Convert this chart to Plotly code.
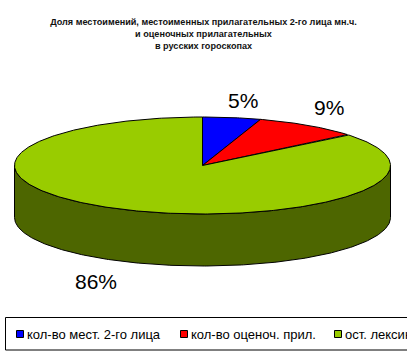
import math
import plotly.graph_objects as go

title_lines = ["Доля местоимений, местоименных прилагательных 2-го лица мн.ч.",
               "и оценочных прилагательных", "в русских гороскопах"]
categories = ["кол-во мест. 2-го лица", "кол-во оценоч. прил.", "ост. лексика"]
values = [5, 9, 86]
top_colors = ["#0000ff", "#ff0000", "#99cc00"]
side_colors = ["#000080", "#800000", "#4d6600"]
legend_swatch_x = [16, 180, 334]
label_nudges = [(0, 1), (-17, -3), (2, 3)]

W, H = 407, 356
CX, CY, RX, RY, DEPTH = 202.5, 165.5, 188, 48.5, 52
SCALE_X, SCALE_Y = 1.36, 1.38

def pt(a, drop=0):
    r = math.radians(a)
    return CX + RX * math.sin(r), CY - RY * math.cos(r) + drop

total = sum(values)
fig = go.Figure()
start = 0
spans = []
for v in values:
    spans.append((start, start + v / total * 360))
    start += v / total * 360

def arc(a0, a1, drop=0):
    n = max(2, int((a1 - a0) * 1.5))
    return [pt(a0 + (a1 - a0) * i / n, drop) for i in range(n + 1)]

# side wall: only the front half of the rim is visible
for (a0, a1), cat, col in zip(spans, categories, side_colors):
    s, e = max(a0, 90), min(a1, 270)
    if s < e:
        poly = arc(s, e) + arc(s, e, DEPTH)[::-1]
        poly.append(poly[0])
        fig.add_trace(go.Scatter(x=[p[0] for p in poly], y=[p[1] for p in poly], mode="lines",
                                 fill="toself", fillcolor=col, line=dict(color="black", width=1),
                                 hoverinfo="skip", showlegend=False))

# top face
for (a0, a1), cat, col in zip(spans, categories, top_colors):
    poly = [(CX, CY)] + arc(a0, a1) + [(CX, CY)]
    fig.add_trace(go.Scatter(x=[p[0] for p in poly], y=[p[1] for p in poly], mode="lines",
                             fill="toself", fillcolor=col, line=dict(color="black", width=1),
                             name=cat, hoverinfo="name", showlegend=False))

# percentage labels
for (a0, a1), v, (nx, ny) in zip(spans, values, label_nudges):
    r = math.radians((a0 + a1) / 2)
    lx = CX + RX * SCALE_X * math.sin(r) + nx
    ly = CY - RY * SCALE_Y * math.cos(r) + ny + (DEPTH if math.cos(r) < 0 else 0)
    fig.add_annotation(x=lx, y=ly, text=f"{round(v / total * 100)}%", showarrow=False,
                       font=dict(size=21, color="black"))

# legend frame, swatches and entries (the frame runs past the right edge)
fig.add_shape(type="rect", x0=5.5, x1=430, y0=317.5, y1=350, line=dict(color="black", width=1),
              fillcolor="white", layer="below")
for sx, cat, col in zip(legend_swatch_x, categories, top_colors):
    fig.add_shape(type="rect", x0=sx + 0.5, x1=sx + 7.5, y0=330.5, y1=337.5,
                  line=dict(color="black", width=1), fillcolor=col)
    fig.add_annotation(x=sx + 9, y=334, text=cat, showarrow=False, xanchor="left",
                       font=dict(size=13, color="black"))

fig.update_layout(
    width=W, height=H, margin=dict(l=0, r=0, t=0, b=0),
    paper_bgcolor="white", plot_bgcolor="white", showlegend=False,
    font=dict(family="Liberation Sans, Arial, sans-serif"),
    title=dict(text="<br>".join(title_lines), x=0.5, xanchor="center", y=0.93, yanchor="top",
               yref="container", font=dict(size=9.1, color="#111111", weight="bold")),
    xaxis=dict(range=[0, W], visible=False, fixedrange=True),
    yaxis=dict(range=[H, 0], visible=False, fixedrange=True),
)
fig.write_html("out.html", config={"displayModeBar": False},
               post_script="document.body.style.margin='0';document.body.style.overflow='hidden';")
